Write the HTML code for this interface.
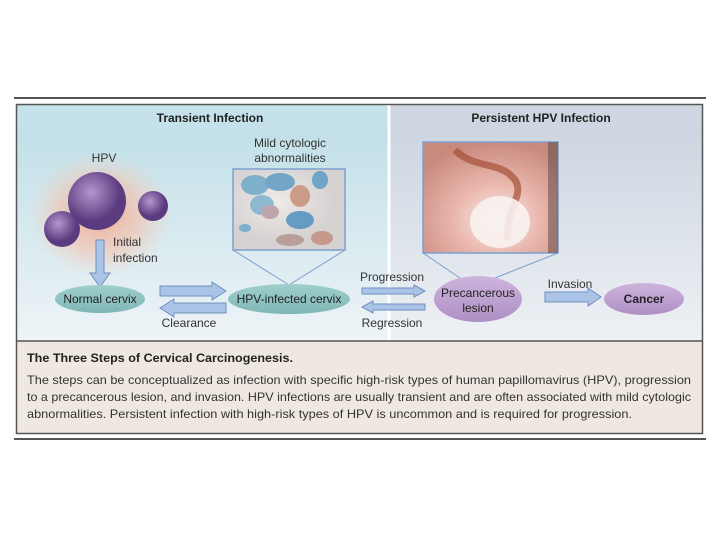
<!DOCTYPE html>
<html><head><meta charset="utf-8"><style>
html,body{margin:0;padding:0;background:#fff;width:720px;height:540px;overflow:hidden}
text{font-family:"Liberation Sans",sans-serif}
</style></head><body>
<svg width="720" height="540" viewBox="0 0 720 540" xmlns="http://www.w3.org/2000/svg">
<defs>
<linearGradient id="lg" x1="0" y1="0" x2="0" y2="1"><stop offset="0" stop-color="#bcdde6"/><stop offset="1" stop-color="#eef4f7"/></linearGradient>
<linearGradient id="rg" x1="0" y1="0" x2="0" y2="1"><stop offset="0" stop-color="#c9d2de"/><stop offset="1" stop-color="#eef1f5"/></linearGradient>
<radialGradient id="glow"><stop offset="0" stop-color="#f2a88c" stop-opacity="0.95"/><stop offset="0.6" stop-color="#f3c2ae" stop-opacity="0.6"/><stop offset="1" stop-color="#f4d0c0" stop-opacity="0"/></radialGradient>
<radialGradient id="vir" cx="0.4" cy="0.35"><stop offset="0" stop-color="#b596cc"/><stop offset="1" stop-color="#5b3a80"/></radialGradient>
<radialGradient id="cyt" cx="0.4" cy="0.4"><stop offset="0" stop-color="#eeeae6"/><stop offset="1" stop-color="#d6d2d2"/></radialGradient>
<radialGradient id="tis" cx="0.55" cy="0.7" r="0.7"><stop offset="0" stop-color="#f8eeec"/><stop offset="0.45" stop-color="#eab8ae"/><stop offset="1" stop-color="#c98a7e"/></radialGradient>
<linearGradient id="ell" x1="0" y1="0" x2="0" y2="1"><stop offset="0" stop-color="#9fcfcc"/><stop offset="1" stop-color="#7fb7b6"/></linearGradient>
<linearGradient id="pur" x1="0" y1="0" x2="0" y2="1"><stop offset="0" stop-color="#cdb4dc"/><stop offset="1" stop-color="#ae8fc4"/></linearGradient>
</defs>
<line x1="14" y1="98" x2="706" y2="98" stroke="#555" stroke-width="2"/>
<rect x="16" y="104" width="373" height="237" fill="url(#lg)"/>
<rect x="389" y="104" width="314" height="237" fill="url(#rg)"/>
<rect x="16" y="104" width="373" height="26" fill="#c5e2ea"/>
<rect x="389" y="104" width="314" height="26" fill="#cdd6e1"/>
<line x1="389" y1="104" x2="389" y2="341" stroke="#fff" stroke-width="3"/>
<rect x="16" y="341" width="687" height="93" fill="#efe8e0"/>
<rect x="16.5" y="104.5" width="686" height="329" fill="none" stroke="#555" stroke-width="1.5"/>
<line x1="16" y1="341" x2="703" y2="341" stroke="#555" stroke-width="1.5"/>
<line x1="14" y1="439" x2="706" y2="439" stroke="#555" stroke-width="2"/>
<text x="210" y="122" font-size="12" font-weight="bold" text-anchor="middle" fill="#222">Transient Infection</text>
<text x="541" y="122" font-size="12" font-weight="bold" text-anchor="middle" fill="#222">Persistent HPV Infection</text>
<!-- viruses -->
<ellipse cx="100" cy="215" rx="72" ry="62" fill="url(#glow)"/>
<text x="104" y="162" font-size="12" text-anchor="middle" fill="#333">HPV</text>
<circle cx="97" cy="201" r="29" fill="url(#vir)"/>
<circle cx="62" cy="229" r="18" fill="url(#vir)"/>
<circle cx="153" cy="206" r="15" fill="url(#vir)"/>
<!-- down arrow -->
<path d="M96,240 h8 v33 h6 l-10,14 l-10,-14 h6 z" fill="#a9c4e6" stroke="#6f8fbf"/>
<text x="113" y="246" font-size="12" fill="#333">Initial</text>
<text x="113" y="262" font-size="12" fill="#333">infection</text>
<!-- cytology -->
<text x="290" y="147" font-size="12" text-anchor="middle" fill="#333">Mild cytologic</text>
<text x="290" y="162" font-size="12" text-anchor="middle" fill="#333">abnormalities</text>
<rect x="233" y="169" width="112" height="81" fill="url(#cyt)" stroke="#7d9fd0" stroke-width="1.5"/>
<g opacity="0.85">
<ellipse cx="255" cy="185" rx="14" ry="10" fill="#6fa9c9"/><ellipse cx="280" cy="182" rx="15" ry="9" fill="#5f9cc2"/>
<ellipse cx="262" cy="205" rx="12" ry="10" fill="#7db3cf"/><ellipse cx="300" cy="220" rx="14" ry="9" fill="#4f92c0"/>
<ellipse cx="320" cy="180" rx="8" ry="9" fill="#5c9dc6"/><ellipse cx="300" cy="196" rx="10" ry="11" fill="#c9907a"/>
<ellipse cx="270" cy="212" rx="9" ry="7" fill="#b89aa4"/><ellipse cx="322" cy="238" rx="11" ry="7" fill="#c49080"/>
<ellipse cx="245" cy="228" rx="6" ry="4" fill="#6fa9c9"/><ellipse cx="290" cy="240" rx="14" ry="6" fill="#b49690"/>
</g>
<line x1="233" y1="250" x2="289" y2="285" stroke="#7d9fd0"/>
<line x1="345" y1="250" x2="289" y2="285" stroke="#7d9fd0"/>
<!-- tissue photo -->
<rect x="423" y="142" width="135" height="111" fill="url(#tis)" stroke="#7d9fd0" stroke-width="1.5"/>
<path d="M455,150 C475,170 500,160 515,180 C525,195 505,210 508,240" stroke="#a0492f" stroke-width="7" fill="none" opacity="0.65"/>
<ellipse cx="500" cy="222" rx="30" ry="26" fill="#f8f2f0" opacity="0.9"/>
<rect x="548" y="142" width="10" height="111" fill="#5a4642" opacity="0.5"/>
<line x1="423" y1="253" x2="460" y2="278" stroke="#7d9fd0"/>
<line x1="558" y1="253" x2="495" y2="278" stroke="#7d9fd0"/>
<!-- ellipses -->
<ellipse cx="100" cy="299" rx="45" ry="14" fill="url(#ell)"/>
<text x="100" y="303" font-size="12" text-anchor="middle" fill="#222">Normal cervix</text>
<ellipse cx="289" cy="299" rx="61" ry="15" fill="url(#ell)"/>
<text x="289" y="303" font-size="12" text-anchor="middle" fill="#222">HPV-infected cervix</text>
<ellipse cx="478" cy="299" rx="44" ry="23" fill="url(#pur)"/>
<text x="478" y="297" font-size="12" text-anchor="middle" fill="#222">Precancerous</text>
<text x="478" y="312" font-size="12" text-anchor="middle" fill="#222">lesion</text>
<ellipse cx="644" cy="299" rx="40" ry="16" fill="url(#pur)"/>
<text x="644" y="303" font-size="12" font-weight="bold" text-anchor="middle" fill="#222">Cancer</text>
<!-- horizontal arrows -->
<path d="M160,286 h52 v-4 l14,9 l-14,9 v-4 h-52 z" fill="#a9c4e6" stroke="#6f8fbf"/>
<path d="M226,303 h-52 v-4 l-14,9 l14,9 v-4 h52 z" fill="#a9c4e6" stroke="#6f8fbf"/>
<text x="189" y="327" font-size="12" text-anchor="middle" fill="#333">Clearance</text>
<path d="M362,288 h52 v-3 l11,6 l-11,6 v-3 h-52 z" fill="#a9c4e6" stroke="#6f8fbf"/>
<path d="M425,304 h-52 v-3 l-11,6 l11,6 v-3 h52 z" fill="#a9c4e6" stroke="#6f8fbf"/>
<text x="392" y="281" font-size="12" text-anchor="middle" fill="#333">Progression</text>
<text x="392" y="327" font-size="12" text-anchor="middle" fill="#333">Regression</text>
<path d="M545,292 h43 v-4 l13,9 l-13,9 v-4 h-43 z" fill="#a9c4e6" stroke="#6f8fbf"/>
<text x="570" y="288" font-size="12" text-anchor="middle" fill="#333">Invasion</text>
<!-- caption -->
<text x="27" y="362" font-size="12" font-weight="bold" fill="#222" textLength="266" lengthAdjust="spacingAndGlyphs">The Three Steps of Cervical Carcinogenesis.</text>
<text x="27" y="384" font-size="12" fill="#333" textLength="664" lengthAdjust="spacingAndGlyphs">The steps can be conceptualized as infection with specific high-risk types of human papillomavirus (HPV), progression</text>
<text x="27" y="401" font-size="12" fill="#333" textLength="664" lengthAdjust="spacingAndGlyphs">to a precancerous lesion, and invasion. HPV infections are usually transient and are often associated with mild cytologic</text>
<text x="27" y="418" font-size="12" fill="#333" textLength="605" lengthAdjust="spacingAndGlyphs">abnormalities. Persistent infection with high-risk types of HPV is uncommon and is required for progression.</text>
</svg>
</body></html>
